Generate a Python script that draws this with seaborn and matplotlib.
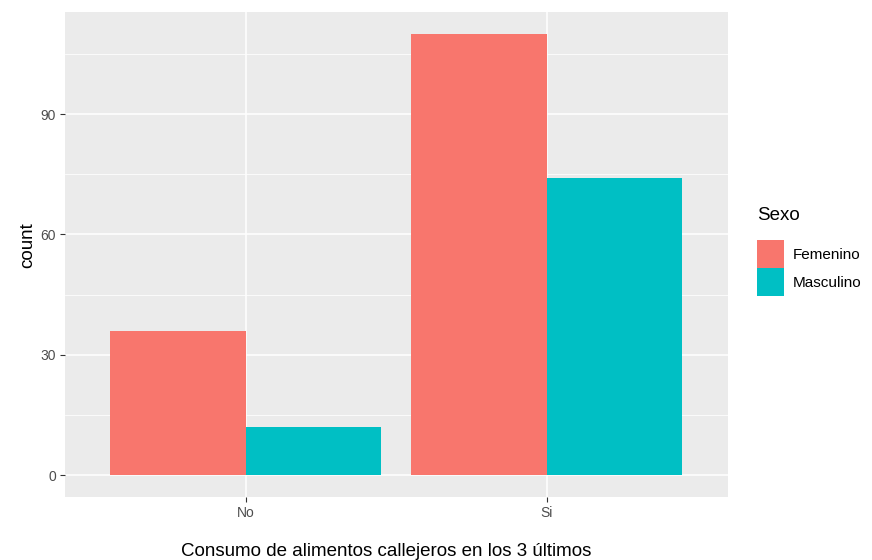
import pandas as pd
import numpy as np
import matplotlib.pyplot as plt
import seaborn as sns
from matplotlib.patches import Patch
from matplotlib.ticker import MultipleLocator

# --- Data ---
consumo = ['No', 'Si', 'No', 'Si']
sexo = ['Femenino', 'Femenino', 'Masculino', 'Masculino']
conteo = [36, 110, 12, 74]
niveles_sexo = ['Femenino', 'Masculino']
colores = ['#F8766D', '#00BFC4']

df = pd.DataFrame({'consumo': consumo, 'Sexo': sexo, 'count': conteo})

# --- Plot (ggplot-like look) ---
plt.rcParams['font.family'] = ['Liberation Sans', 'DejaVu Sans']
fig = plt.figure(figsize=(8.72, 5.6), dpi=100)
ax = fig.add_axes([0.0745, 0.112, 0.760, 0.867])
ax.set_facecolor('#EBEBEB')

sns.barplot(data=df, x='consumo', y='count', hue='Sexo', order=['No', 'Si'],
            hue_order=niveles_sexo, palette=colores, width=0.9, gap=0,
            saturation=1, ax=ax, legend=False, zorder=3)
for p in ax.patches:
    p.set_edgecolor('none')

ax.set_xlim(-0.6, 1.6)
ax.set_ylim(-5.5, 115.5)
ax.yaxis.set_major_locator(MultipleLocator(30))
ax.yaxis.set_minor_locator(MultipleLocator(15))
ax.grid(which='major', color='white', linewidth=1.1, zorder=0)
ax.grid(which='minor', axis='y', color='white', linewidth=0.55, zorder=0)
ax.set_axisbelow(True)
for s in ax.spines.values():
    s.set_visible(False)
ax.tick_params(which='major', length=3.5, color='#333333', labelsize=10,
               labelcolor='#4D4D4D', pad=3)
ax.tick_params(which='minor', length=0)

ax.set_xlabel('Consumo de alimentos callejeros en los 3 últimos', fontsize=13.5,
              color='black')
ax.xaxis.set_label_coords(0.484, -0.094)
ax.set_ylabel('count', fontsize=13.5, color='black')
ax.yaxis.set_label_coords(-0.044, 0.52)

# legend: title drawn separately so the gap to the keys matches
fig.text(757 / 872, 1 - 215 / 560, 'Sexo', fontsize=13.5, va='center', ha='left')
handles = [Patch(facecolor=c, edgecolor='none', label=l)
           for c, l in zip(colores, niveles_sexo)]
fig.legend(handles=handles, loc='upper left',
           bbox_to_anchor=(757 / 872, 1 - 240 / 560), frameon=False, fontsize=11,
           handlelength=1.75, handleheight=2.44, handletextpad=0.6,
           labelspacing=0.0, borderaxespad=0, borderpad=0)

fig.savefig('out.png', dpi=100)
